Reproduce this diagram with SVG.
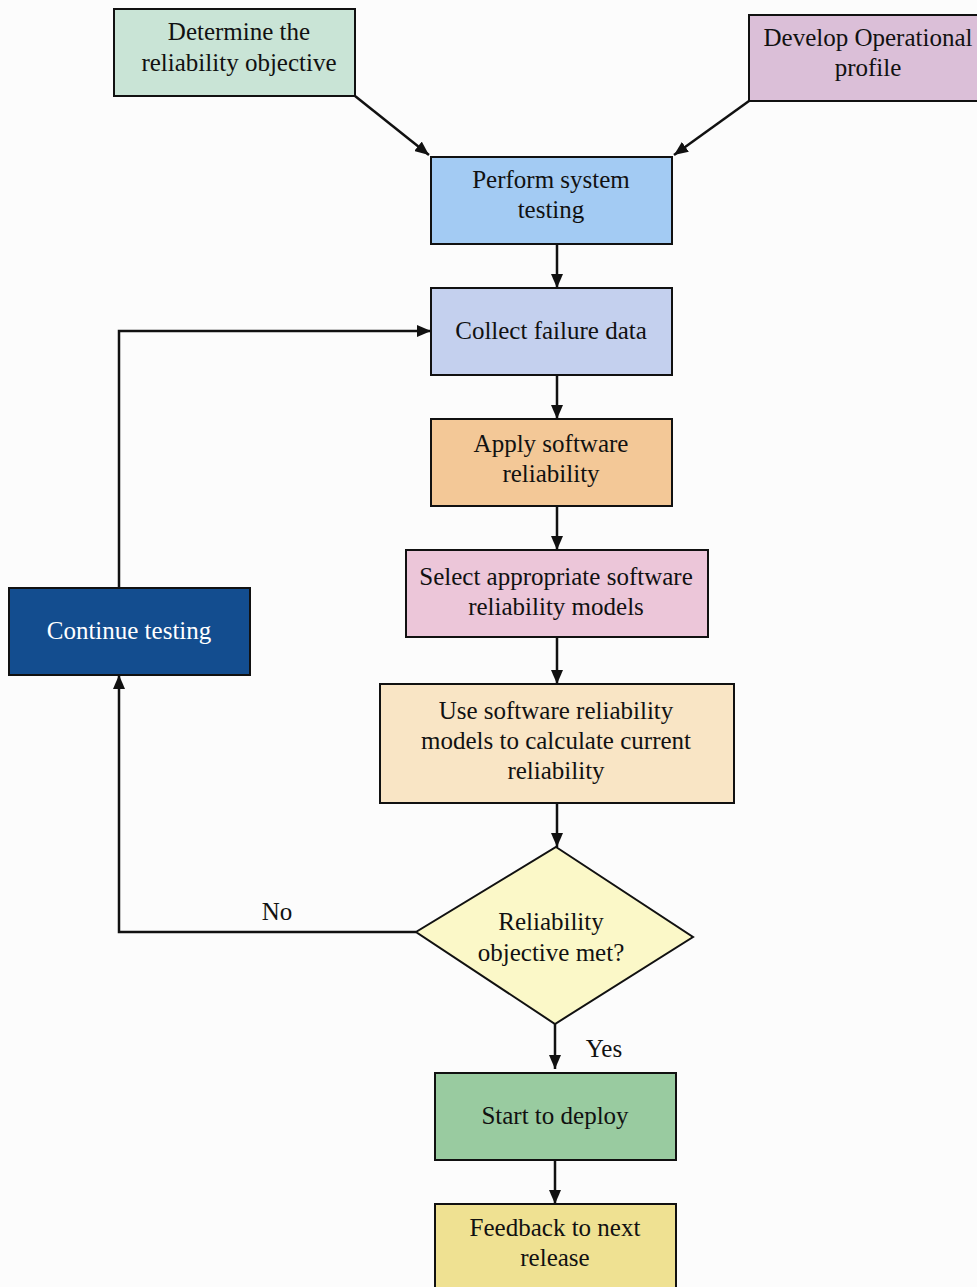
<svg xmlns="http://www.w3.org/2000/svg" width="977" height="1287" viewBox="0 0 977 1287">
  <defs>
    <marker id="arrow" viewBox="0 0 14 12" refX="14" refY="6" markerWidth="14" markerHeight="12" markerUnits="userSpaceOnUse" orient="auto">
      <path d="M0,0 L14,6 L0,12 Z" fill="#111"/>
    </marker>
    <style>
      .box { stroke: #111; stroke-width: 2; }
      .edge { fill: none; stroke: #111; stroke-width: 2.5; }
    </style>
  </defs>

  <rect width="977" height="1287" fill="#fcfcfc"/>

  <g font-family="'Liberation Serif', 'Times New Roman', 'DejaVu Serif', serif" font-size="25" fill="#111" text-anchor="middle">

  <!-- connectors -->
  <g id="connectors">
    <path class="edge" d="M355,96 L429,155" marker-end="url(#arrow)"/>
    <path class="edge" d="M749,101 L674,155" marker-end="url(#arrow)"/>
    <path class="edge" d="M557,244 L557,288" marker-end="url(#arrow)"/>
    <path class="edge" d="M557,375 L557,419" marker-end="url(#arrow)"/>
    <path class="edge" d="M557,506 L557,550" marker-end="url(#arrow)"/>
    <path class="edge" d="M557,637 L557,684" marker-end="url(#arrow)"/>
    <path class="edge" d="M557,803 L557,847" marker-end="url(#arrow)"/>
    <path class="edge" d="M555,1024 L555,1069" marker-end="url(#arrow)"/>
    <path class="edge" d="M555,1160 L555,1204" marker-end="url(#arrow)"/>
    <path class="edge" d="M416,932 L119,932 L119,675" marker-end="url(#arrow)"/>
    <path class="edge" d="M119,588 L119,331 L431,331" marker-end="url(#arrow)"/>
    <text x="277" y="920">No</text>
    <text x="604" y="1057">Yes</text>
  </g>

  <g id="determine-objective">
    <rect class="box" x="114" y="9" width="241" height="87" fill="#c9e4d6"/>
    <text x="239" y="40">Determine the</text>
    <text x="239" y="71">reliability objective</text>
  </g>

  <g id="operational-profile">
    <rect class="box" x="749" y="15" width="236" height="86" fill="#dbbfd8"/>
    <text x="868" y="46">Develop Operational</text>
    <text x="868" y="76">profile</text>
  </g>

  <g id="system-testing">
    <rect class="box" x="431" y="157" width="241" height="87" fill="#a3cbf3"/>
    <text x="551" y="188">Perform system</text>
    <text x="551" y="218">testing</text>
  </g>

  <g id="collect-data">
    <rect class="box" x="431" y="288" width="241" height="87" fill="#c4d0ee"/>
    <text x="551" y="339">Collect failure data</text>
  </g>

  <g id="apply-reliability">
    <rect class="box" x="431" y="419" width="241" height="87" fill="#f3c897"/>
    <text x="551" y="452">Apply software</text>
    <text x="551" y="482">reliability</text>
  </g>

  <g id="select-models">
    <rect class="box" x="406" y="550" width="302" height="87" fill="#ecc6d9"/>
    <text x="556" y="585">Select appropriate software</text>
    <text x="556" y="615">reliability models</text>
  </g>

  <g id="calculate-reliability">
    <rect class="box" x="380" y="684" width="354" height="119" fill="#f9e5c5"/>
    <text x="556" y="719">Use software reliability</text>
    <text x="556" y="749">models to calculate current</text>
    <text x="556" y="779">reliability</text>
  </g>

  <g id="objective-met">
    <polygon class="box" points="556,847 693,937 555,1024 416,932" fill="#fbf8c8"/>
    <text x="551" y="930">Reliability</text>
    <text x="551" y="961">objective met?</text>
  </g>

  <g id="start-deploy">
    <rect class="box" x="435" y="1073" width="241" height="87" fill="#99cba0"/>
    <text x="555" y="1124">Start to deploy</text>
  </g>

  <g id="feedback">
    <rect class="box" x="435" y="1204" width="241" height="95" fill="#efe192"/>
    <text x="555" y="1236">Feedback to next</text>
    <text x="555" y="1266">release</text>
  </g>

  <g id="continue-testing">
    <rect class="box" x="9" y="588" width="241" height="87" fill="#134d8f"/>
    <text x="129" y="639" fill="#ffffff">Continue testing</text>
  </g>

  </g>
</svg>
